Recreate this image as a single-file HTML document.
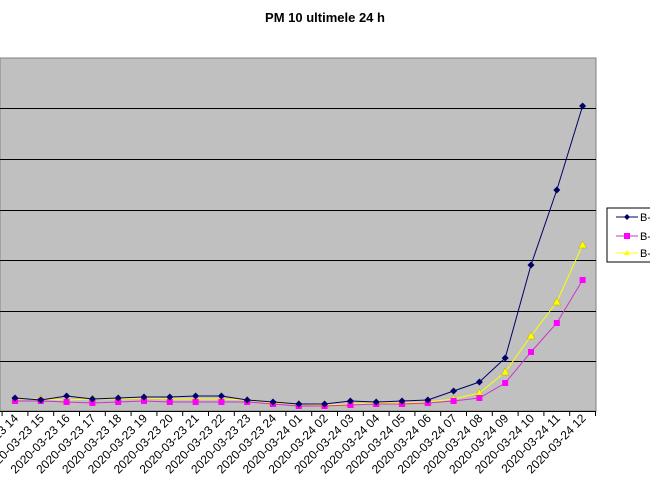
<!DOCTYPE html>
<html><head><style>body{margin:0;background:#fff}svg{display:block}</style></head><body>
<svg width="650" height="488" xmlns="http://www.w3.org/2000/svg" font-family="Liberation Sans, sans-serif">
<defs>
<marker id="mb" markerUnits="userSpaceOnUse" markerWidth="8" markerHeight="8" refX="4" refY="4"><polygon points="4,0.5 7.5,4 4,7.5 0.5,4" fill="#000066"/></marker>
<marker id="mm" markerUnits="userSpaceOnUse" markerWidth="8" markerHeight="8" refX="4" refY="4"><rect x="1" y="1" width="6" height="6" fill="#ff00ff"/></marker>
<marker id="my" markerUnits="userSpaceOnUse" markerWidth="10" markerHeight="10" refX="5" refY="5"><polygon points="5,1 9,8 1,8" fill="#ffff00" stroke="#aaaa00" stroke-width="0.5"/></marker>
</defs>
<text x="325" y="22" text-anchor="middle" font-size="13" font-weight="bold">PM 10 ultimele 24 h</text>
<rect x="0" y="58" width="596" height="353" fill="#c0c0c0" stroke="#808080"/>
<g stroke="#000" stroke-width="1">
<line x1="0" y1="108.5" x2="596" y2="108.5"/><line x1="0" y1="159.5" x2="596" y2="159.5"/>
<line x1="0" y1="210.5" x2="596" y2="210.5"/><line x1="0" y1="260.5" x2="596" y2="260.5"/>
<line x1="0" y1="311.5" x2="596" y2="311.5"/><line x1="0" y1="361.5" x2="596" y2="361.5"/>
<line x1="0" y1="411.5" x2="596" y2="411.5"/>
<path d="M2.1 411v5M27.9 411v5M53.7 411v5M79.5 411v5M105.3 411v5M131.1 411v5M156.9 411v5M182.7 411v5M208.5 411v5M234.3 411v5M260.1 411v5M285.9 411v5M311.7 411v5M337.5 411v5M363.3 411v5M389.1 411v5M414.9 411v5M440.7 411v5M466.5 411v5M492.3 411v5M518.1 411v5M543.9 411v5M569.7 411v5M595.5 411v5"/>
</g>
<g font-size="12" text-anchor="end">
<text x="19" y="419" transform="rotate(-45 19 419)">2020-03-23 14</text>
<text x="44.8" y="419" transform="rotate(-45 44.8 419)">2020-03-23 15</text>
<text x="70.6" y="419" transform="rotate(-45 70.6 419)">2020-03-23 16</text>
<text x="96.4" y="419" transform="rotate(-45 96.4 419)">2020-03-23 17</text>
<text x="122.2" y="419" transform="rotate(-45 122.2 419)">2020-03-23 18</text>
<text x="148" y="419" transform="rotate(-45 148 419)">2020-03-23 19</text>
<text x="173.8" y="419" transform="rotate(-45 173.8 419)">2020-03-23 20</text>
<text x="199.6" y="419" transform="rotate(-45 199.6 419)">2020-03-23 21</text>
<text x="225.4" y="419" transform="rotate(-45 225.4 419)">2020-03-23 22</text>
<text x="251.2" y="419" transform="rotate(-45 251.2 419)">2020-03-23 23</text>
<text x="277" y="419" transform="rotate(-45 277 419)">2020-03-23 24</text>
<text x="302.8" y="419" transform="rotate(-45 302.8 419)">2020-03-24 01</text>
<text x="328.6" y="419" transform="rotate(-45 328.6 419)">2020-03-24 02</text>
<text x="354.4" y="419" transform="rotate(-45 354.4 419)">2020-03-24 03</text>
<text x="380.2" y="419" transform="rotate(-45 380.2 419)">2020-03-24 04</text>
<text x="406" y="419" transform="rotate(-45 406 419)">2020-03-24 05</text>
<text x="431.8" y="419" transform="rotate(-45 431.8 419)">2020-03-24 06</text>
<text x="457.6" y="419" transform="rotate(-45 457.6 419)">2020-03-24 07</text>
<text x="483.4" y="419" transform="rotate(-45 483.4 419)">2020-03-24 08</text>
<text x="509.2" y="419" transform="rotate(-45 509.2 419)">2020-03-24 09</text>
<text x="535" y="419" transform="rotate(-45 535 419)">2020-03-24 10</text>
<text x="560.8" y="419" transform="rotate(-45 560.8 419)">2020-03-24 11</text>
<text x="586.6" y="419" transform="rotate(-45 586.6 419)">2020-03-24 12</text>
</g>
<polyline fill="none" stroke="#ffff00" marker-start="url(#my)" marker-mid="url(#my)" marker-end="url(#my)" points="15,399 40.8,399 66.6,400 92.4,399 118.2,399 144,398 169.8,399 195.6,399 221.4,399 247.2,400 273,403 298.8,404 324.6,405 350.4,404 376.2,403 402,403 427.8,402 453.6,399 479.4,393 505.2,372 531,336 556.8,302 582.6,245"/>
<polyline fill="none" stroke="#cc33cc" marker-start="url(#mm)" marker-mid="url(#mm)" marker-end="url(#mm)" points="15,401 40.8,401 66.6,402 92.4,403 118.2,402 144,401 169.8,402 195.6,402 221.4,402 247.2,402 273,404 298.8,406 324.6,406 350.4,405 376.2,404 402,404 427.8,403 453.6,401 479.4,398 505.2,383 531,352 556.8,323 582.6,280"/>
<polyline fill="none" stroke="#000066" marker-start="url(#mb)" marker-mid="url(#mb)" marker-end="url(#mb)" points="15,398 40.8,400 66.6,396 92.4,399 118.2,398 144,397 169.8,397 195.6,396 221.4,396 247.2,400 273,402 298.8,404 324.6,404 350.4,401 376.2,402 402,401 427.8,400 453.6,391 479.4,382 505.2,358 531,265 556.8,190 582.6,106"/>
<rect x="607" y="208" width="50" height="54" fill="#fff" stroke="#000"/>
<line x1="616" y1="217" x2="638" y2="217" stroke="#000066"/><polygon points="627,214 630,217 627,220 624,217" fill="#000066"/>
<text x="640" y="221" font-size="11">B-</text>
<line x1="616" y1="236" x2="638" y2="236" stroke="#cc33cc"/><rect x="624" y="233" width="6" height="6" fill="#ff00ff"/>
<text x="640" y="240" font-size="11">B-</text>
<line x1="616" y1="253" x2="638" y2="253" stroke="#ffff00"/><polygon points="627,250 630,255 624,255" fill="#ffff00"/>
<text x="640" y="257" font-size="11">B-</text>
</svg>
</body></html>
